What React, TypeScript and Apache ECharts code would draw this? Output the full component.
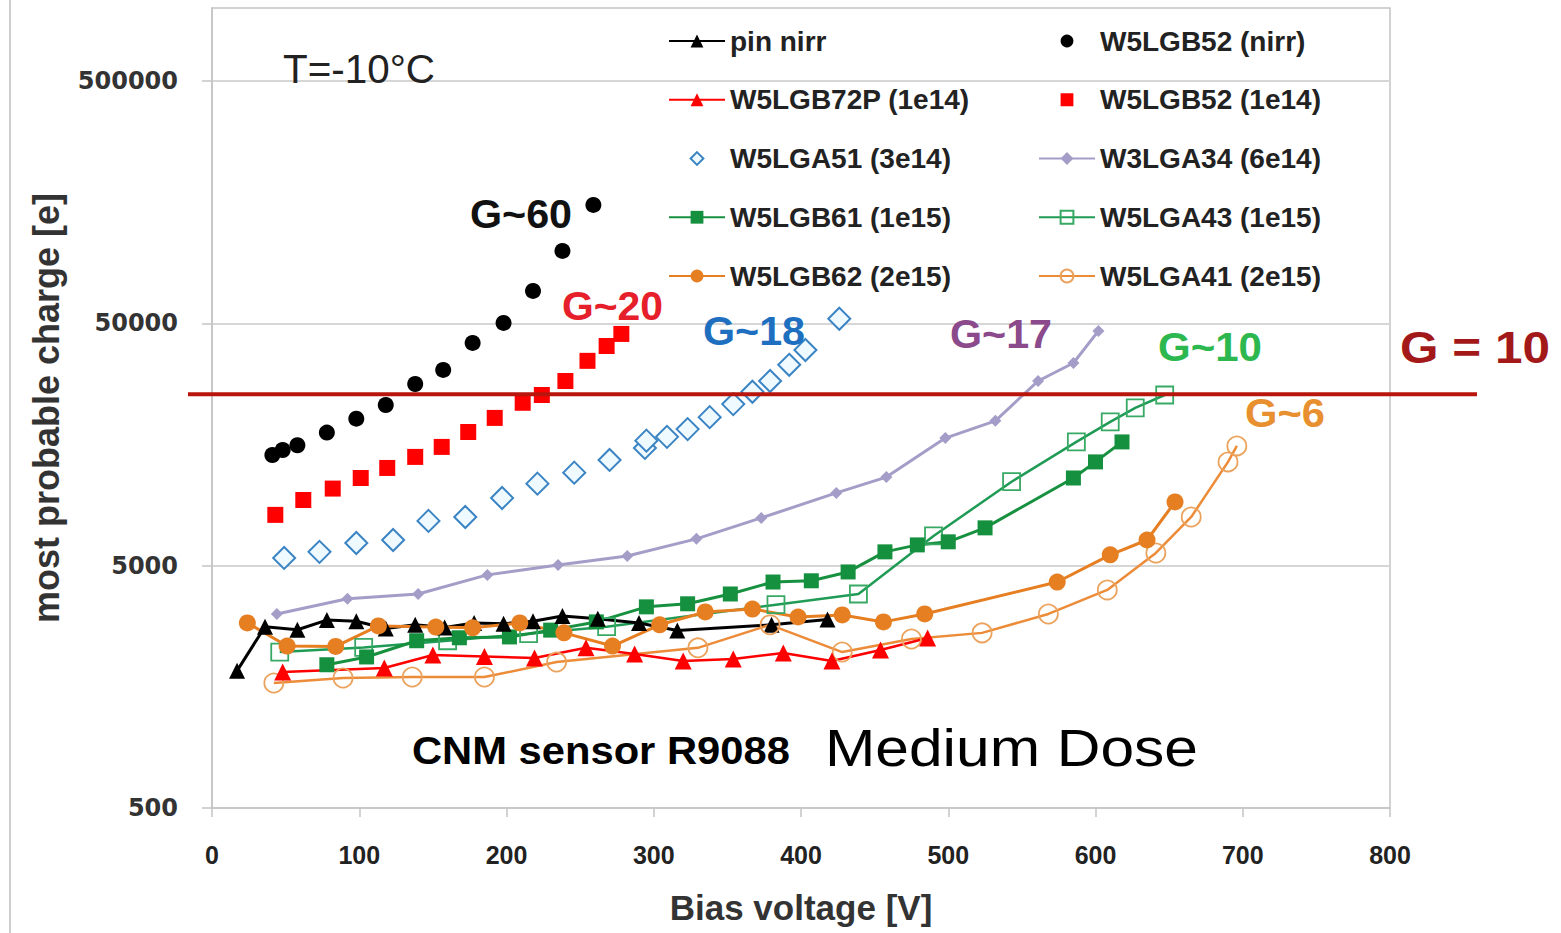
import React, { useEffect, useRef } from "react";
import * as echarts from "echarts";

// ---------------- data (bias voltage [V], most probable charge [e]) ----------------
const pinNirr: [number, number][] = [
  [17, 1840], [36, 2800], [58, 2720], [78, 2980], [98, 2950], [118, 2750], [138, 2850],
  [158, 2780], [178, 2900], [198, 2880], [218, 2950], [238, 3100], [262, 3020], [290, 2900],
  [316, 2700], [380, 2850], [418, 3000],
];
const w5lgb52Nirr: [number, number][] = [
  [41, 14300], [48, 15000], [58, 15700], [78, 17700], [98, 20200], [118, 23000], [138, 28100],
  [157, 32100], [177, 41500], [198, 50200], [218, 68000], [238, 99500], [259, 154000],
];
const w5lgb72p1e14: [number, number][] = [
  [48, 1820], [117, 1890], [150, 2140], [185, 2110], [219, 2080], [254, 2290], [287, 2160],
  [320, 2020], [354, 2060], [388, 2180], [421, 2020], [454, 2245], [486, 2515],
];
const w5lgb521e14: [number, number][] = [
  [43, 8100], [62, 9330], [82, 10400], [101, 11500], [119, 12650], [138, 14050], [156, 15450],
  [174, 17800], [192, 20350], [211, 23500], [224, 25300], [240, 28900], [255, 35000], [268, 40300],
  [278, 45200],
];
const w5lga513e14: [number, number][] = [
  [49, 5380], [73, 5700], [98, 6200], [123, 6380], [147, 7650], [172, 7940], [197, 9510],
  [221, 10900], [246, 12100], [270, 13650], [294, 15300], [295, 16400], [309, 17000], [323, 18300],
  [338, 20500], [354, 23200], [367, 26100], [379, 28900], [392, 33700], [403, 38800], [426, 52200],
];
const w3lga346e14: [number, number][] = [
  [44, 3160], [92, 3650], [140, 3820], [187, 4580], [235, 5030], [282, 5480], [329, 6450],
  [373, 7870], [424, 9980], [458, 11600], [498, 16800], [532, 19800], [561, 28900], [585, 34300],
  [602, 46500],
];
const w5lgb611e15: [number, number][] = [
  [78, 1950], [105, 2100], [139, 2450], [168, 2520], [202, 2540], [230, 2710], [261, 2930],
  [295, 3380], [323, 3480], [352, 3820], [381, 4280], [407, 4330], [432, 4710], [457, 5700],
  [479, 6090], [500, 6270], [525, 7160], [585, 11500], [600, 13400], [618, 16200],
];
const w5lga431e15: [number, number][] = [
  [46, 2200], [103, 2300], [160, 2450], [215, 2620], [268, 2800], [383, 3450], [439, 3820],
  [490, 6630], [543, 11100], [587, 16200], [610, 19600], [627, 22400], [647, 25300],
];
const w5lgb622e15: [number, number][] = [
  [24, 2900], [51, 2330], [84, 2320], [113, 2820], [152, 2790], [177, 2770], [209, 2900],
  [239, 2640], [272, 2330], [304, 2850], [335, 3220], [367, 3310], [398, 3070], [428, 3130],
  [456, 2930], [484, 3160], [574, 4280], [610, 5540], [635, 6380], [654, 9160],
];
const w5lga412e15: [number, number][] = [
  [42, 1640], [89, 1720], [136, 1735], [185, 1735], [234, 2000], [330, 2290], [379, 2850],
  [428, 2200], [475, 2490], [523, 2640], [568, 3160], [608, 3970], [641, 5640], [665, 7940],
  [690, 13400], [696, 15600],
];

const xMin = 0;
const xMax = 800;
const xStep = 100;
const yTickLabels = [500, 5000, 50000, 500000];
const yBottom = 500;
const yTop = 1000000;
const gainTenLevel = 25500;

const legendLeft = ["pin nirr", "W5LGB72P (1e14)", "W5LGA51 (3e14)", "W5LGB61 (1e15)", "W5LGB62 (2e15)"];
const legendRight = ["W5LGB52 (nirr)", "W5LGB52 (1e14)", "W3LGA34 (6e14)", "W5LGA43 (1e15)", "W5LGA41 (2e15)"];

// ---------------- helpers ----------------
const ly = (v: number) => Math.log10(v / yBottom);
const tr = (pts: [number, number][]) => pts.map(([x, y]) => [x, ly(y)]);
const SANS = "'Liberation Sans', Arial, sans-serif";
const DEJA = "'DejaVu Sans', sans-serif";

function fitScale(text: string, weight: string, size: number, family: string, target: number) {
  try {
    const c = document.createElement("canvas").getContext("2d");
    if (!c) return 1;
    c.font = `${weight} ${size}px ${family}`;
    const w = c.measureText(text).width;
    return w > 0 ? target / w : 1;
  } catch (e) {
    return 1;
  }
}

function buildOption() {
  const lineSeries = (name: string, pts: [number, number][], symbol: string, size: number, item: any, line: any) => ({
    name,
    type: "line",
    data: tr(pts),
    symbol,
    symbolSize: size,
    showSymbol: true,
    itemStyle: item,
    lineStyle: line,
    emphasis: { disabled: true },
  });
  // markers only: a line series whose line is invisible, so that the legend icon keeps the marker's shape
  const markerSeries = (name: string, pts: [number, number][], symbol: string, size: number, item: any) => ({
    name,
    type: "line",
    data: tr(pts),
    symbol,
    symbolSize: size,
    showSymbol: true,
    itemStyle: item,
    lineStyle: { width: 0, opacity: 0, color: "rgba(0,0,0,0)" },
    emphasis: { disabled: true },
  });

  const legendCommon = {
    orient: "vertical",
    top: 26,
    padding: 0,
    itemWidth: 56,
    itemHeight: 16,
    itemGap: 28.75,
    selectedMode: false,
    textStyle: { fontSize: 28, fontWeight: "bold", color: "#222", fontFamily: SANS, lineHeight: 30 },
  };

  return {
    animation: false,
    backgroundColor: "#ffffff",
    grid: {
      left: 212,
      right: 171,
      top: 8,
      bottom: 125,
      show: true,
      borderColor: "#c4c4c4",
      borderWidth: 1.5,
      backgroundColor: "transparent",
    },
    legend: [
      { ...legendCommon, left: 668, data: legendLeft },
      { ...legendCommon, left: 1038, data: legendRight },
    ],
    xAxis: {
      type: "value",
      min: xMin,
      max: xMax,
      interval: xStep,
      axisLine: { show: true, lineStyle: { color: "#c4c4c4", width: 1.5 } },
      axisTick: { show: true, length: 9, lineStyle: { color: "#c4c4c4", width: 1.5 } },
      splitLine: { show: false },
      axisLabel: { margin: 34, fontSize: 25, fontWeight: "bold", color: "#222", fontFamily: SANS },
      name: "Bias voltage [V]",
      nameLocation: "middle",
      nameGap: 82,
      nameTextStyle: { fontSize: 35, fontWeight: "bold", color: "#333", fontFamily: SANS },
    },
    yAxis: {
      type: "value",
      min: 0,
      max: ly(yTop),
      interval: 1,
      axisLine: { show: true, lineStyle: { color: "#c4c4c4", width: 1.5 } },
      axisTick: {
        show: true,
        length: 10,
        customValues: yTickLabels.map(ly),
        lineStyle: { color: "#c4c4c4", width: 1.5 },
      },
      splitLine: { show: true, lineStyle: { color: "#d6d6d6", width: 2 } },
      axisLabel: {
        margin: 34,
        customValues: yTickLabels.map(ly),
        formatter: (v: number) => String(Math.round(yBottom * Math.pow(10, v))),
        fontSize: 24,
        fontWeight: "bold",
        color: "#333",
        fontFamily: DEJA,
      },
      name: "most probable charge [e]",
      nameLocation: "middle",
      nameRotate: 90,
      nameGap: 148,
      nameTextStyle: { fontSize: 36, fontWeight: "bold", color: "#333", fontFamily: SANS },
    },
    series: [
      lineSeries("W5LGA43 (1e15)", w5lga431e15, "rect", 17,
        { color: "rgba(255,255,255,0)", borderColor: "#38a964", borderWidth: 1.8 },
        { color: "#1f9b55", width: 2.5 }),
      lineSeries("W5LGB61 (1e15)", w5lgb611e15, "rect", 15,
        { color: "#14903e" }, { color: "#17913f", width: 3 }),
      lineSeries("pin nirr", pinNirr, "triangle", 16, { color: "#000000" }, { color: "#000000", width: 3 }),
      lineSeries("W5LGA41 (2e15)", w5lga412e15, "circle", 19,
        { color: "rgba(255,255,255,0)", borderColor: "#eba25c", borderWidth: 1.8 },
        { color: "#ec8b38", width: 2.5 }),
      lineSeries("W5LGB72P (1e14)", w5lgb72p1e14, "triangle", 17, { color: "#ff0000" }, { color: "#ff0000", width: 2.5 }),
      lineSeries("W5LGB62 (2e15)", w5lgb622e15, "circle", 17, { color: "#e67e22" }, { color: "#e67e22", width: 3 }),
      lineSeries("W3LGA34 (6e14)", w3lga346e14, "diamond", 12, { color: "#a39dc8" }, { color: "#a39dc8", width: 3 }),
      markerSeries("W5LGA51 (3e14)", w5lga513e14, "diamond", 22,
        { color: "#eefaff", borderColor: "#3b84c4", borderWidth: 2 }),
      markerSeries("W5LGB52 (1e14)", w5lgb521e14, "rect", 16, { color: "#ff0000" }),
      markerSeries("W5LGB52 (nirr)", w5lgb52Nirr, "circle", 16, { color: "#000000" }),
    ],
  };
}

type Note = { text: string; left: number; cy: number; width: number; size: number; weight: string; color: string };
const notes: Note[] = [
  { text: "T=-10°C", left: 283, cy: 70, width: 152, size: 40, weight: "normal", color: "#222" },
  { text: "G~60", left: 470, cy: 214, width: 102, size: 40, weight: "bold", color: "#111" },
  { text: "G~20", left: 562, cy: 306, width: 101, size: 40, weight: "bold", color: "#e5202a" },
  { text: "G~18", left: 703, cy: 331, width: 102, size: 40, weight: "bold", color: "#1f6fc0" },
  { text: "G~17", left: 950, cy: 334, width: 102, size: 40, weight: "bold", color: "#8b4a8b" },
  { text: "G~10", left: 1158, cy: 347, width: 104, size: 40, weight: "bold", color: "#2db84f" },
  { text: "G~6", left: 1245, cy: 413, width: 80, size: 40, weight: "bold", color: "#e8902f" },
  { text: "G = 10", left: 1400, cy: 348, width: 150, size: 44, weight: "bold", color: "#a31818" },
  { text: "CNM sensor R9088", left: 412, cy: 751, width: 378, size: 38, weight: "bold", color: "#000" },
  { text: "Medium Dose", left: 825, cy: 748, width: 373, size: 52, weight: "normal", color: "#000" },
];

function buildGraphics(gY: number) {
  const texts = notes.map((n) => ({
    type: "text",
    x: n.left,
    y: n.cy,
    z: 100,
    scaleX: fitScale(n.text, n.weight, n.size, SANS, n.width),
    style: {
      text: n.text,
      fill: n.color,
      fontSize: n.size,
      fontWeight: n.weight,
      fontFamily: SANS,
      align: "left",
      verticalAlign: "middle",
    },
  }));
  return [
    {
      type: "line",
      z: 90,
      shape: { x1: 10, y1: 0, x2: 10, y2: 933 },
      style: { stroke: "#cfcfcf", lineWidth: 2 },
    },
    {
      type: "line",
      z: 95,
      shape: { x1: 188, y1: gY, x2: 1477, y2: gY },
      style: { stroke: "#b8150c", lineWidth: 4 },
    },
    ...texts,
  ];
}

export default function App() {
  const ref = useRef<HTMLDivElement>(null);
  useEffect(() => {
    const el = ref.current;
    if (!el) return;
    const chart = echarts.init(el, null, { renderer: "svg" });
    chart.setOption(buildOption() as any);
    const gY = chart.convertToPixel({ yAxisIndex: 0 } as any, ly(gainTenLevel)) as unknown as number;
    chart.setOption({ graphic: buildGraphics(gY) } as any);
    return () => chart.dispose();
  }, []);
  return (
    <div
      ref={ref}
      style={{ position: "fixed", left: 0, top: 0, width: 1561, height: 933, background: "#fff" }}
    />
  );
}
